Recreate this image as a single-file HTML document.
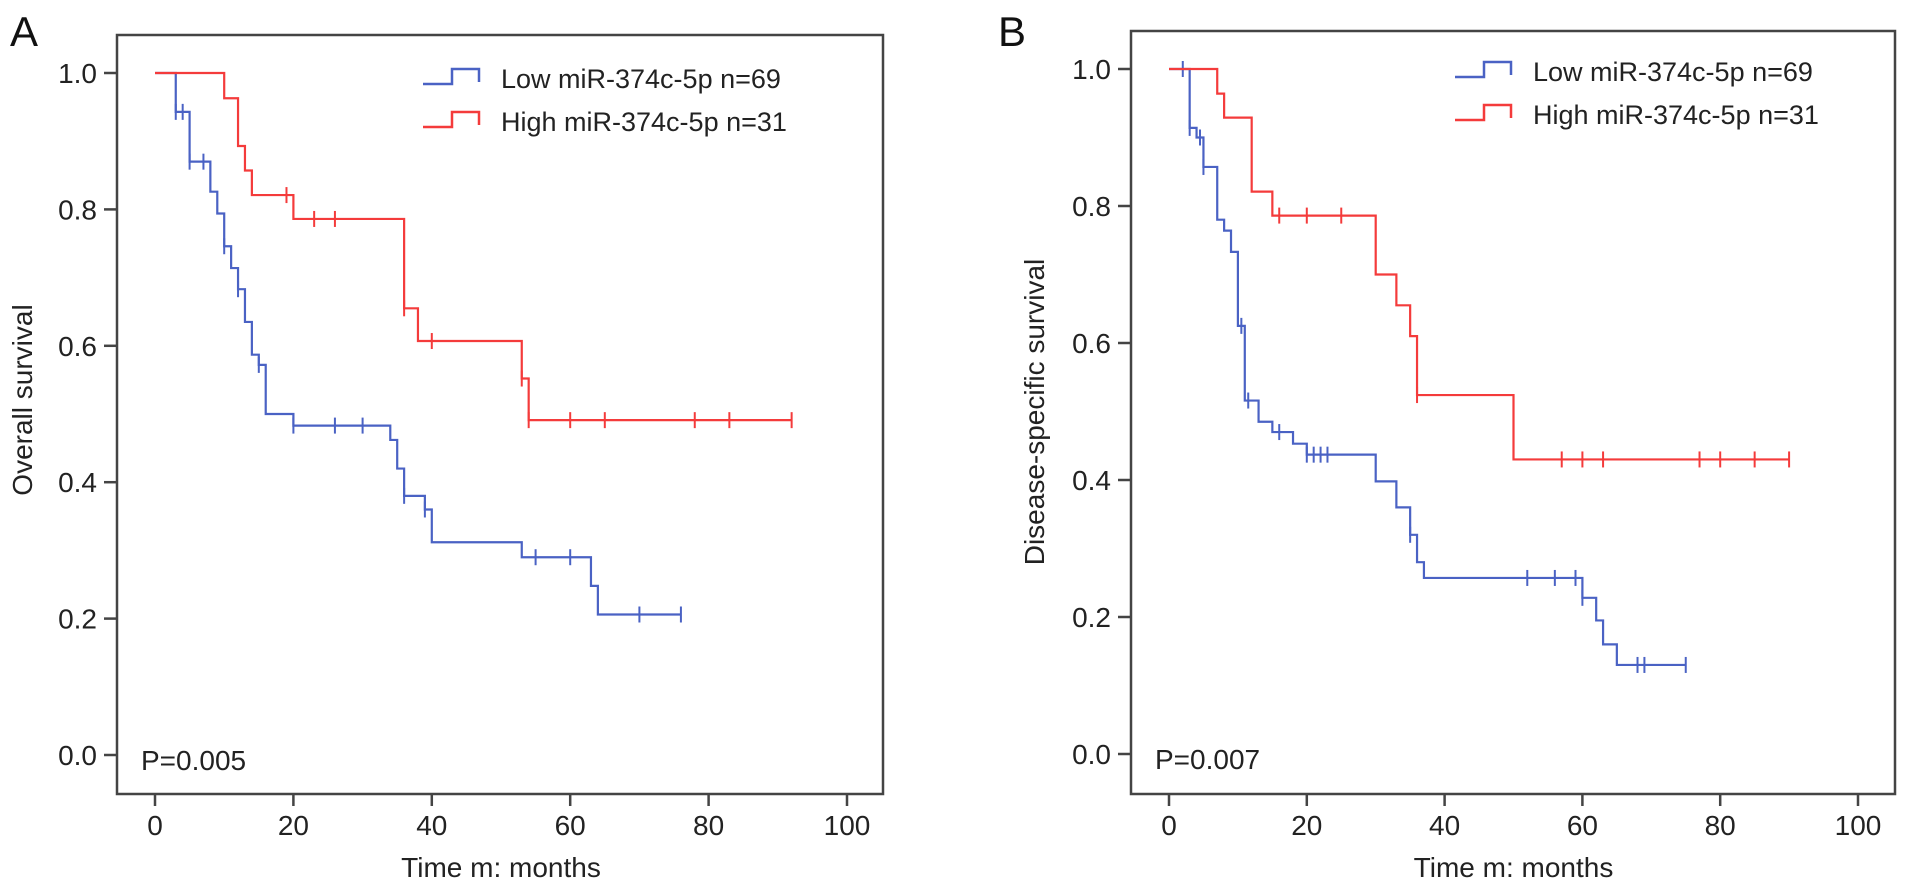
<!DOCTYPE html>
<html><head><meta charset="utf-8"><style>
html,body{margin:0;padding:0;background:#fff;}
svg{display:block;font-family:"Liberation Sans",Arial,sans-serif;}
</style></head><body>
<svg id="chart" width="1913" height="891" viewBox="0 0 1913 891" xmlns="http://www.w3.org/2000/svg"></svg>
<script>
// Panel A: overall survival
const aLowTimes = [3,5,8,9,10,11,12,13,14,15,16,20,34,35,36,39,40,53,63,64];
const aLowSurv  = [0.943,0.870,0.826,0.794,0.746,0.714,0.683,0.635,0.587,0.572,0.500,0.483,0.462,0.420,0.380,0.360,0.312,0.290,0.248,0.206];
const aLowCens  = [3,4,5,7,10,12,15,20,26,30,36,39,55,60,70,76];
const aLowEnd = 76;
const aHighTimes = [10,12,13,14,20,36,38,53,54];
const aHighSurv  = [0.963,0.893,0.857,0.821,0.786,0.655,0.607,0.552,0.491];
const aHighCens  = [19,23,26,36,40,53,54,60,65,78,83,92];
const aHighEnd = 92;
// Panel B: disease-specific survival
const bLowTimes = [3,4,5,7,8,9,10,11,13,15,18,20,30,33,35,36,37,60,62,63,65];
const bLowSurv  = [0.914,0.900,0.857,0.780,0.764,0.733,0.625,0.516,0.485,0.470,0.453,0.437,0.398,0.360,0.320,0.280,0.257,0.228,0.195,0.160,0.130];
const bLowCens  = [2,3,4.5,5,10.5,11.5,16,20,21,22,23,35,52,56,59,60,68,69,75];
const bLowEnd = 75;
const bHighTimes = [7,8,12,15,30,33,35,36,50];
const bHighSurv  = [0.964,0.929,0.821,0.786,0.700,0.655,0.610,0.524,0.430];
const bHighCens  = [16,20,25,36,57,60,63,77,80,85,90];
const bHighEnd = 90;
const xTicks = [0,20,40,60,80,100];
const yTicks = [0.0,0.2,0.4,0.6,0.8,1.0];

const NS='http://www.w3.org/2000/svg';
const svg=document.getElementById('chart');
const BLUE='#4a62c4', RED='#f43b3b', AX='#444';
function mk(tag,attrs,parent){const e=document.createElementNS(NS,tag);for(const k in attrs)e.setAttribute(k,attrs[k]);(parent||svg).appendChild(e);return e;}

function panel(cfg){
  const g=mk('g',{});
  
  
  const xs=v=>cfg.x0+v*(cfg.x100-cfg.x0)/100;
  const ys=v=>cfg.y0+v*(cfg.y1-cfg.y0);
  const fr=mk('rect',{x:cfg.L,y:cfg.T,width:cfg.R-cfg.L,height:cfg.B-cfg.T,fill:'none',stroke:AX,'stroke-width':2.5},g);
  
  
  xTicks.forEach(t=>{
    mk('line',{x1:xs(t),x2:xs(t),y1:cfg.B,y2:cfg.B+12,stroke:AX,'stroke-width':2.5},g);
    const tx=mk('text',{x:xs(t),y:cfg.B+41,'font-size':28,'text-anchor':'middle',fill:'#222'},g);
    tx.textContent=String(t);
    
    
  });
  yTicks.forEach(t=>{
    mk('line',{x1:cfg.L-13,x2:cfg.L,y1:ys(t),y2:ys(t),stroke:AX,'stroke-width':2.5},g);
    const tx=mk('text',{x:cfg.L-20,y:ys(t)+10,'font-size':28,'text-anchor':'end',fill:'#222'},g);
    tx.textContent=t.toFixed(1);
    
    
  });
  const xl=mk('text',{x:(xs(0)+xs(100))/2,y:cfg.B+83,'font-size':28,'text-anchor':'middle',fill:'#222'},g);
  xl.textContent='Time m: months';
  
  
  const yl=mk('text',{x:0,y:0,'font-size':28,'text-anchor':'middle',fill:'#222',transform:`translate(${cfg.ylx},${cfg.yly}) rotate(-90)`},g);
  yl.textContent=cfg.ytitle;
  
  
  const pl=mk('text',{x:cfg.L+24,y:ys(0)+15,'font-size':28,fill:'#222'},g);
  pl.textContent=cfg.p;
  
  
  const lt=mk('text',{x:cfg.letX,y:46,'font-size':42,fill:'#111'},g);
  lt.textContent=cfg.letter;
  
  
  function curve(times,surv,cens,end,color,nm){
    let d=`M${xs(0)},${ys(1)}`;let cur=1;
    times.forEach((t,i)=>{d+=` H${xs(t)} V${ys(surv[i])}`;cur=surv[i];});
    d+=` H${xs(end)}`;
    const p=mk('path',{d:d,fill:'none',stroke:color,'stroke-width':2.2},g);
    
    
    cens.forEach(c=>{
      let s=1;times.forEach((t,i)=>{if(t<=c)s=surv[i];});
      const m=mk('line',{x1:xs(c),x2:xs(c),y1:ys(s)-8,y2:ys(s)+8,stroke:color,'stroke-width':2},g);
      
      
    });
  }
  curve(cfg.low[0],cfg.low[1],cfg.low[2],cfg.low[3],BLUE,'low-group');
  curve(cfg.high[0],cfg.high[1],cfg.high[2],cfg.high[3],RED,'high-group');
  [[BLUE,'Low miR-374c-5p n=69',0,'legend-low'],[RED,'High miR-374c-5p n=31',43,'legend-high']].forEach(([c,txt,dy,nm])=>{
    const lg=mk('g',{},g);
    
    
    const y=cfg.legY+dy;
    mk('path',{d:`M${cfg.legX},${y+15} H${cfg.legX+29} V${y} H${cfg.legX+56} V${y+13}`,fill:'none',stroke:c,'stroke-width':2.5},lg);
    const t=mk('text',{x:cfg.legX+78,y:y+19,'font-size':27,fill:'#222'},lg);
    t.textContent=txt;
  });
}
panel({name:'panel-a-overall-survival',L:117,T:35,R:883,B:794,x0:155,x100:847,y0:755,y1:73,
  ytitle:'Overall survival',ylx:32,yly:400,p:'P=0.005',letter:'A',letX:10,legX:423,legY:69,
  low:[aLowTimes,aLowSurv,aLowCens,aLowEnd],high:[aHighTimes,aHighSurv,aHighCens,aHighEnd]});
panel({name:'panel-b-disease-specific-survival',L:1131,T:31,R:1895,B:794,x0:1169,x100:1858,y0:754,y1:69,
  ytitle:'Disease-specific survival',ylx:1044,yly:412,p:'P=0.007',letter:'B',letX:998,legX:1455,legY:62,
  low:[bLowTimes,bLowSurv,bLowCens,bLowEnd],high:[bHighTimes,bHighSurv,bHighCens,bHighEnd]});
</script>
</body></html>
